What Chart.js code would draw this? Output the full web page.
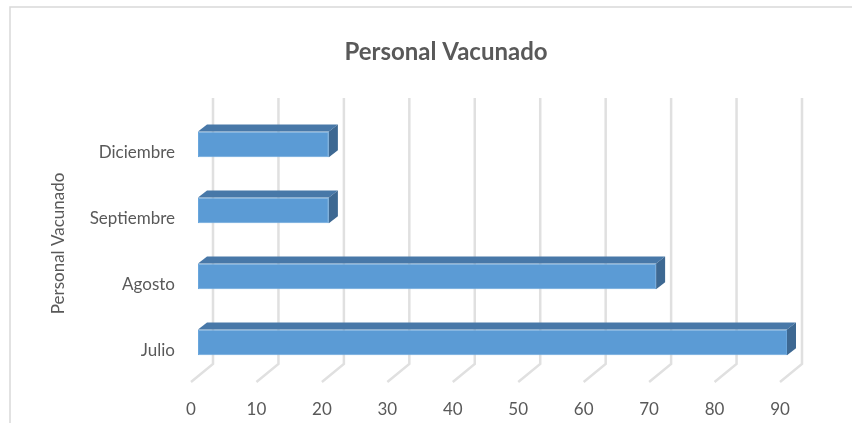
<!DOCTYPE html>
<html>
<head>
<meta charset="utf-8">
<script src="https://cdn.jsdelivr.net/npm/chart.js@4/dist/chart.umd.min.js"></script>
<style>
  html, body { margin: 0; padding: 0; background: #fff; overflow: hidden; }
  canvas { display: block; }
</style>
</head>
<body>
<canvas id="c" width="852" height="423"></canvas>
<script>
const chartTitle = 'Personal Vacunado';
const axisTitle = 'Personal Vacunado';
const categories = ['Julio', 'Agosto', 'Septiembre', 'Diciembre'];
const values = [90, 70, 20, 20];
const xTicks = [0, 10, 20, 30, 40, 50, 60, 70, 80, 90];

const FONT = 'Lato, "Open Sans", sans-serif';
const DEPTH_X = 9, DEPTH_Y = 7;

const frame = {
  id: 'frame',
  beforeDraw(chart) {
    const c = chart.ctx;
    c.save();
    c.strokeStyle = '#d9d9d9';
    c.lineWidth = 1.5;
    c.strokeRect(10, 7, 900, 500);
    c.restore();
  }
};

const walls = {
  id: 'walls',
  beforeDatasetsDraw(chart) {
    const c = chart.ctx;
    const xs = chart.scales.x;
    c.save();
    c.strokeStyle = '#e0e0e0';
    c.lineWidth = 2.5;
    xTicks.forEach(v => {
      const xb = xs.getPixelForValue(v) + 15;
      c.beginPath();
      c.moveTo(xb, 98);
      c.lineTo(xb, 364);
      c.lineTo(xb - 22, 382);
      c.stroke();
    });
    c.restore();
  }
};

const bars3d = {
  id: 'bars3d',
  afterDatasetsDraw(chart) {
    const c = chart.ctx;
    const meta = chart.getDatasetMeta(0);
    c.save();
    meta.data.forEach(el => {
      const p = el.getProps(['x', 'y', 'base', 'height'], true);
      const top = p.y - p.height / 2, bot = p.y + p.height / 2;
      const x0 = p.base, x1 = p.x;
      c.fillStyle = '#4878a8';
      c.beginPath();
      c.moveTo(x0, top);
      c.lineTo(x0 + DEPTH_X, top - DEPTH_Y);
      c.lineTo(x1 + DEPTH_X, top - DEPTH_Y);
      c.lineTo(x1, top);
      c.closePath();
      c.fill();
      c.fillStyle = '#3d6892';
      c.beginPath();
      c.moveTo(x1, top);
      c.lineTo(x1 + DEPTH_X, top - DEPTH_Y);
      c.lineTo(x1 + DEPTH_X, bot - DEPTH_Y);
      c.lineTo(x1, bot);
      c.closePath();
      c.fill();
    });
    c.restore();
  }
};

new Chart(document.getElementById('c'), {
  type: 'bar',
  data: {
    labels: categories,
    datasets: [{
      label: axisTitle,
      data: values,
      backgroundColor: '#5b9bd5',
      borderColor: '#6aa6dc',
      borderWidth: 1,
      borderSkipped: false,
      categoryPercentage: 1,
      barPercentage: 0.39,
      clip: false
    }]
  },
  options: {
    indexAxis: 'y',
    responsive: false,
    animation: false,
    layout: { padding: { left: 40, right: 0, top: 0, bottom: 0 } },
    plugins: {
      legend: { display: false },
      tooltip: { enabled: false },
      title: {
        display: true,
        text: chartTitle,
        color: '#595959',
        font: { family: FONT, size: 24, weight: 'bold' },
        padding: { top: 37.5, bottom: 45 }
      }
    },
    scales: {
      x: {
        type: 'linear',
        min: 0, max: 90,
        afterBuildTicks(s) { s.ticks = xTicks.map(v => ({ value: v })); },
        grid: { display: false, drawTicks: false },
        border: { display: false },
        ticks: { color: '#595959', font: { family: FONT, size: 17 }, padding: 24, labelOffset: -7, maxRotation: 0 },
        afterFit(s) { s.height = 47.5; }
      },
      y: {
        reverse: true,
        grid: { display: false, drawTicks: false },
        border: { display: false },
        ticks: { color: '#595959', font: { family: FONT, size: 17 }, padding: 23, labelOffset: 8 },
        title: {
          display: true,
          text: axisTitle,
          color: '#595959',
          font: { family: FONT, size: 17 },
          padding: { top: 8, bottom: 0 }
        },
        afterFit(s) { s.width = 158; }
      },
      y2: {
        position: 'right',
        type: 'category',
        labels: categories,
        display: true,
        grid: { display: false, drawTicks: false },
        border: { display: false },
        ticks: { display: false },
        afterFit(s) { s.width = 65; }
      }
    }
  },
  plugins: [frame, walls, bars3d]
});
</script>
</body>
</html>
